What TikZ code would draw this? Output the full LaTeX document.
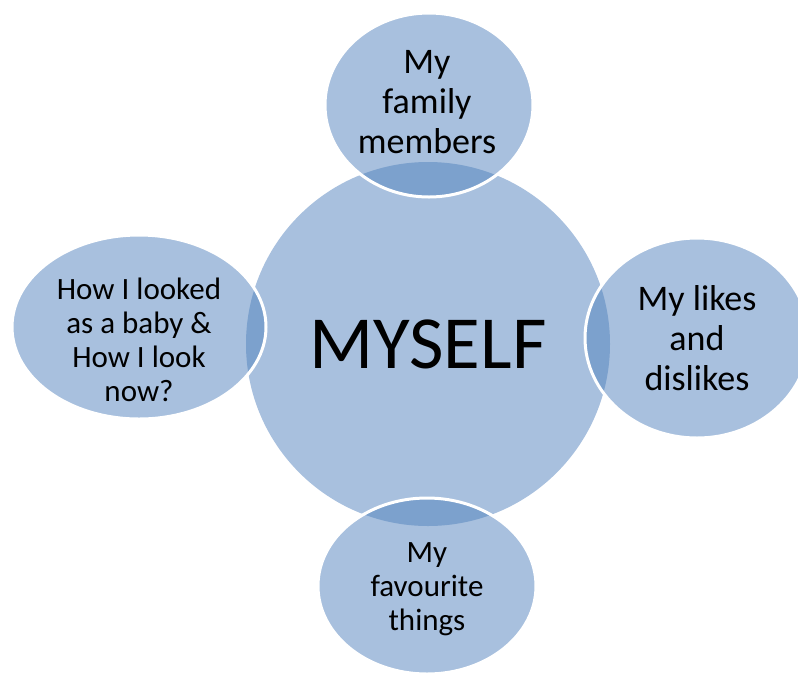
\documentclass[tikz,border=0pt]{standalone}
\usepackage{fontspec}
\setmainfont{Carlito}
\definecolor{lightblue}{RGB}{168,192,222}
\definecolor{darkblue}{RGB}{124,161,205}
\begin{document}
\begin{tikzpicture}[x=1pt,y=-1pt,
  bubble/.style={fill=lightblue},
  rim/.style={draw=white,line width=3pt},
  lens/.style={fill=darkblue},
  bigtxt/.style={align=center,font=\fontsize{36}{40}\selectfont},
  smalltxt/.style={align=center,font=\fontsize{31}{34}\selectfont}]
\useasboundingbox (0,0) rectangle (798,673);
% central circle
\fill[bubble] (428,344) circle[radius=182pt];
% outer bubbles
\foreach \cx/\cy/\rx/\ry in {429/105/104/92, 697/338/112/100, 139/327/127/92, 427/586/109/88}{
  \fill[bubble] (\cx,\cy) ellipse[x radius=\rx pt, y radius=\ry pt];
  \begin{scope}
    \clip (428,344) circle[radius=182pt];
    \fill[lens] (\cx,\cy) ellipse[x radius=\rx pt, y radius=\ry pt];
  \end{scope}
  \draw[rim] (\cx,\cy) ellipse[x radius=\rx pt, y radius=\ry pt];
}
\node (center) at (428,344) {\fontsize{75}{80}\selectfont MYSELF};
\node[bigtxt] (top) at (427,102) {My\\family\\members};
\node[bigtxt] (right) at (697,338) {My likes\\and\\dislikes};
\node[smalltxt] (left) at (139,340) {How I looked\\as a baby \&\\How I look\\now?};
\node[smalltxt] (bottom) at (427,589) {My\\favourite\\things};
\end{tikzpicture}
\end{document}
